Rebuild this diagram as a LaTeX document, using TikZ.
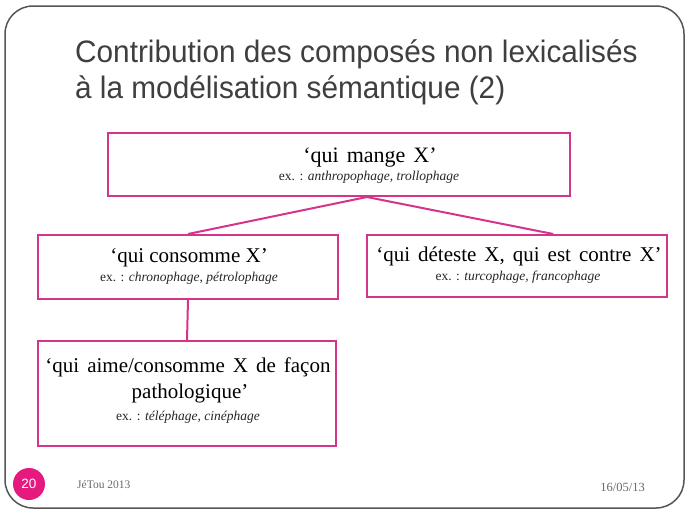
\documentclass[tikz,border=0pt]{standalone}
\usepackage{fontspec}
\setmainfont{Liberation Serif}
\newfontfamily\titlefont[FakeStretch=0.96]{Liberation Sans}
\newfontfamily\numfont{Liberation Sans}
\usetikzlibrary{calc}
\definecolor{pinkline}{HTML}{D6338A}
\definecolor{pinkfill}{HTML}{E6197E}
\definecolor{titlegrey}{HTML}{3F3F3F}
\definecolor{framegrey}{HTML}{555555}
\definecolor{footgrey}{HTML}{6A6A6A}
\newcommand{\widespaces}{\spaceskip=8pt plus 1pt\relax}
\tikzset{
  catbox/.style={draw=pinkline, line width=2pt, inner sep=0pt},
  conn/.style={draw=pinkline, line width=2pt},
  bigtext/.style={anchor=base, inner sep=0pt, text=black, font=\fontsize{21}{24}\selectfont},
  extext/.style={anchor=base, inner sep=0pt, text=black!85, font=\fontsize{13.5}{16}\selectfont},
  titletext/.style={anchor=base west, inner sep=0pt, text=titlegrey, font=\titlefont\fontsize{31}{36}\selectfont},
}
\begin{document}
\begin{tikzpicture}[x=1pt,y=-1pt]
\useasboundingbox (0,0) rectangle (689,517);
\fill[white] (0,0) rectangle (689,517);
\draw[framegrey, line width=1.5pt, rounded corners=28pt] (5,6) rectangle (684,508);
\node[titletext] (t1) at (75,62) {Contribution des composés non lexicalisés};
\node[titletext] (t2) at (75,98) {à la modélisation sémantique (2)};
% boxes
\node[catbox, minimum width=462pt, minimum height=63pt] (top) at (339,164.5) {};
\node[catbox, minimum width=300pt, minimum height=64pt] (left) at (188,267) {};
\node[catbox, minimum width=300pt, minimum height=62pt] (right) at (517,266) {};
\node[catbox, minimum width=298pt, minimum height=105pt] (bottom) at (187,393.5) {};
% texts
\node[bigtext, font=\fontsize{22}{24}\selectfont] (topa) at (370,162) {\widespaces ‘qui mange X’};
\node[extext] (topb) at (369,180) {ex. : \textit{anthropophage, trollophage}};
\node[bigtext] (lefta) at (189,262) {‘qui consomme X’};
\node[extext] (leftb) at (189,281) {ex. : \textit{chronophage, pétrolophage}};
\node[bigtext] (righta) at (519,261) {\widespaces ‘qui déteste X, qui est contre X’};
\node[extext] (rightb) at (518,280) {ex. : \textit{turcophage, francophage}};
\node[bigtext] (bota) at (188,372) {\widespaces ‘qui aime/consomme X de façon};
\node[bigtext] (botb) at (190,398) {pathologique’};
\node[extext] (botc) at (188,420) {ex. : \textit{téléphage, cinéphage}};
% connectors
\coordinate (j) at ($(top.south west)!0.56!(top.south east)$);
\coordinate (rj) at ($(right.north west)!0.62!(right.north east)$);
\draw[conn] (j) -- (left.north);
\draw[conn] (j) -- (rj);
\draw[conn] (left.south) -- (bottom.north);
% footer
\node[circle, fill=pinkfill, minimum size=32pt, inner sep=0pt, text=white, font=\numfont\fontsize{13.5}{15}\selectfont] (num) at (29,484) {20};
\node[anchor=base west, inner sep=0pt, text=footgrey, font=\fontsize{11.5}{13}\selectfont] (foot) at (77,488) {JéTou 2013};
\node[anchor=base east, inner sep=0pt, text=footgrey, font=\fontsize{12.5}{14}\selectfont] (date) at (645,491) {16/05/13};
\end{tikzpicture}
\end{document}
